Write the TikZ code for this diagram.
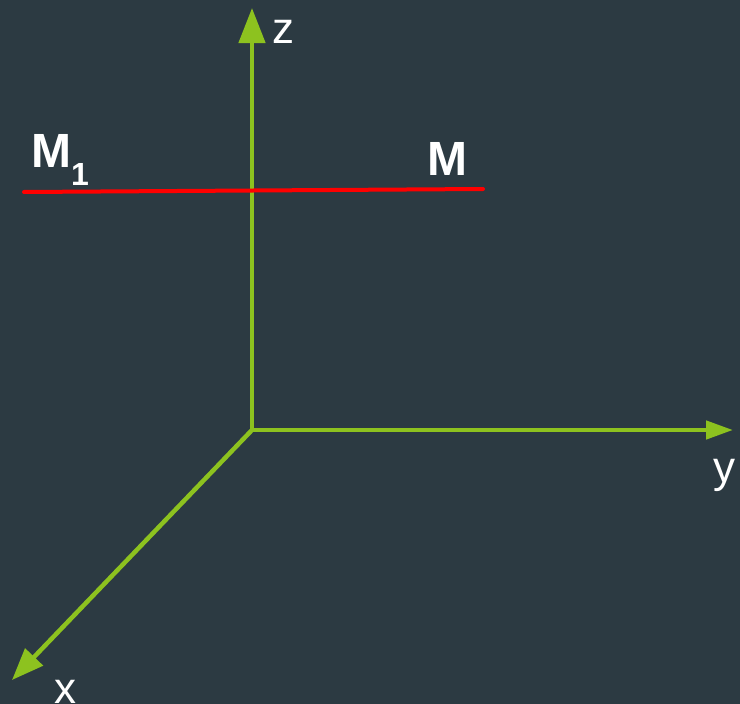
\documentclass[tikz,border=0pt]{standalone}
\usepackage{fontspec}
\setmainfont{Liberation Sans}
\definecolor{slatebg}{RGB}{44,58,66}
\definecolor{axisgreen}{RGB}{141,194,31}
\definecolor{lineRed}{RGB}{255,0,0}
\usetikzlibrary{arrows.meta}

\begin{document}
\begin{tikzpicture}[x=1pt, y=-1pt,
    axis/.style={line width=4.5pt, axisgreen},
    axislabel/.style={anchor=base, inner sep=0pt, text=white, font=\fontsize{44}{44}\selectfont},
    pointlabel/.style={anchor=base west, inner sep=0pt, text=white, font=\fontsize{48}{48}\selectfont\bfseries}]
    \fill[slatebg] (0,0) rectangle (740,704);
    \useasboundingbox (0,0) rectangle (740,704);
    \coordinate (O) at (252,430);
    \coordinate (Zend) at (252,8);
    \coordinate (Yend) at (733,430);
    \coordinate (Xend) at (12,680);
    \coordinate (Mleft) at (24,192);
    \coordinate (Mright) at (483,189);
    \draw[axis, -{Triangle[length=35pt, width=26pt]}] (O) -- (Zend);
    \draw[axis, -{Triangle[length=27pt, width=18pt]}] (O) -- (Yend);
    \draw[axis, -{Triangle[length=32pt, width=24pt]}] (O) -- (Xend);
    \draw[line width=4pt, lineRed, line cap=round] (Mleft) -- (Mright);
    \node[axislabel] (zlab) at (283,43) {z};
    \node[axislabel] (ylab) at (724,482) {y};
    \node[axislabel] (xlab) at (65,703) {x};
    \node[pointlabel] (m1lab) at (31,167) {M\raisebox{-18pt}{\fontsize{32}{32}\selectfont 1}};
    \node[pointlabel] (mlab) at (427,175) {M};
\end{tikzpicture}
\end{document}
